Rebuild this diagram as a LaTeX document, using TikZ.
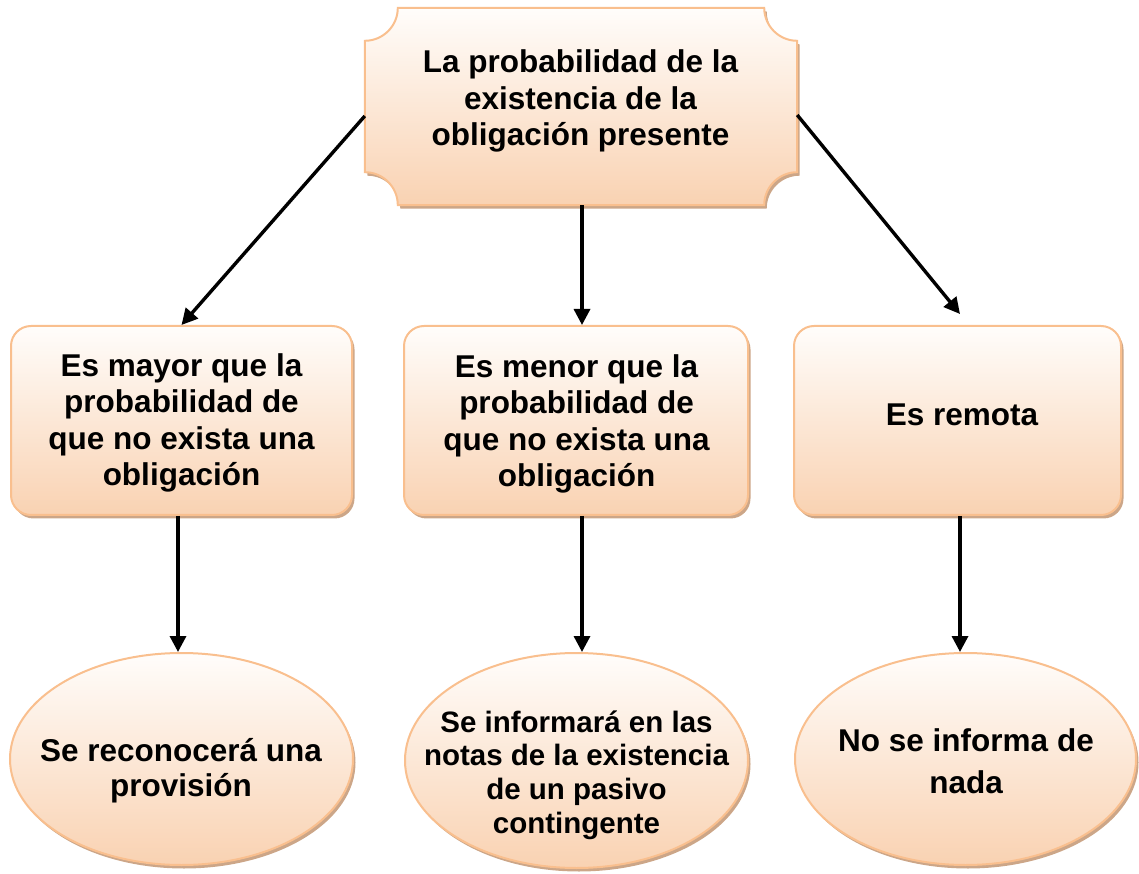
\documentclass[tikz,border=0pt]{standalone}
\usepackage{fontspec}
\setmainfont{Liberation Sans}
\usetikzlibrary{arrows.meta,shapes.geometric,shadows}
\definecolor{bordc}{RGB}{249,191,142}
\definecolor{topc}{RGB}{255,253,251}
\definecolor{botc}{RGB}{249,210,178}
\definecolor{shadowc}{RGB}{204,166,136}
\tikzset{
  fancy/.style={draw=bordc, line width=2pt, top color=topc, bottom color=botc,
    drop shadow={shadow xshift=2.5pt, shadow yshift=-3.5pt, fill=shadowc, opacity=1}},
  rbox/.style={fancy, rectangle, rounded corners=20pt, inner sep=0pt},
  oval/.style={fancy, ellipse, inner sep=0pt},
  anchorbox/.style={rectangle, draw=none, inner sep=0pt},
  txt/.style={align=center, inner sep=0pt, font=\bfseries\fontsize{31.5}{36.5}\selectfont},
  arr/.style={line width=3.4pt, -{Triangle[width=16pt,length=16pt]}}
}
\begin{document}
\begin{tikzpicture}[x=1pt,y=1pt]
\useasboundingbox (0,0) rectangle (1139,873);
% top plaque
\node[anchorbox, minimum width=432pt, minimum height=197pt] (top) at (581,766.5) {};
\path[fancy] ([xshift=33pt]top.north west) -- ([xshift=-33pt]top.north east)
  arc[start angle=180, end angle=270, radius=33pt]
  -- ([yshift=33pt]top.south east)
  arc[start angle=90, end angle=180, radius=33pt]
  -- ([xshift=33pt]top.south west)
  arc[start angle=0, end angle=90, radius=33pt]
  -- ([yshift=-33pt]top.north west)
  arc[start angle=270, end angle=360, radius=33pt] -- cycle;
\node[txt] (topt) at (580.5,772) {La probabilidad de la\\existencia de la\\obligación presente};
% boxes
\node[rbox, minimum width=341pt, minimum height=189pt] (box1) at (181.5,452.5) {};
\node[rbox, minimum width=344pt, minimum height=189pt] (box2) at (576,452.5) {};
\node[rbox, minimum width=327pt, minimum height=189pt] (box3) at (957.5,452.5) {};
\node[txt] (b1t) at (181.5,450) {Es mayor que la\\probabilidad de\\que no exista una\\obligación};
\node[txt] (b2t) at (576.5,449) {Es menor que la\\probabilidad de\\que no exista una\\obligación};
\node[txt] (b3t) at (962,458) {Es remota};
% ellipses
\node[oval, minimum width=343pt, minimum height=212pt] (ell1) at (181.5,114) {};
\node[oval, minimum width=343pt, minimum height=215pt] (ell2) at (576.5,112.5) {};
\node[oval, minimum width=341pt, minimum height=212pt] (ell3) at (965.5,114) {};
\node[txt, font=\bfseries\fontsize{31.5}{35}\selectfont] (e1t) at (181,102) {Se reconocerá una\\provisión};
\node[txt, font=\bfseries\fontsize{29.5}{33.7}\selectfont] (e2t) at (576.5,98) {Se informará en las\\notas de la existencia\\de un pasivo\\contingente};
\node[txt, font=\bfseries\fontsize{31.5}{42}\selectfont] (e3t) at (966,111.5) {No se informa de\\nada};
% arrows
\draw[arr] ([yshift=-9.5pt]top.west) -- (box1.north);
\draw[arr] ([xshift=1pt]top.south) -- ([xshift=1pt]top.south |- box2.north);
\draw[arr] ([yshift=-8.5pt]top.east) -- ([xshift=2.5pt,yshift=11pt]box3.north);
\draw[arr] ([xshift=-3.5pt]box1.south) -- ([xshift=-3.5pt]box1.south |- ell1.north);
\draw[arr] ([xshift=6pt]box2.south) -- ([xshift=6pt]box2.south |- ell2.north);
\draw[arr] ([xshift=2.5pt]box3.south) -- ([xshift=2.5pt]box3.south |- ell3.north);
\end{tikzpicture}
\end{document}
